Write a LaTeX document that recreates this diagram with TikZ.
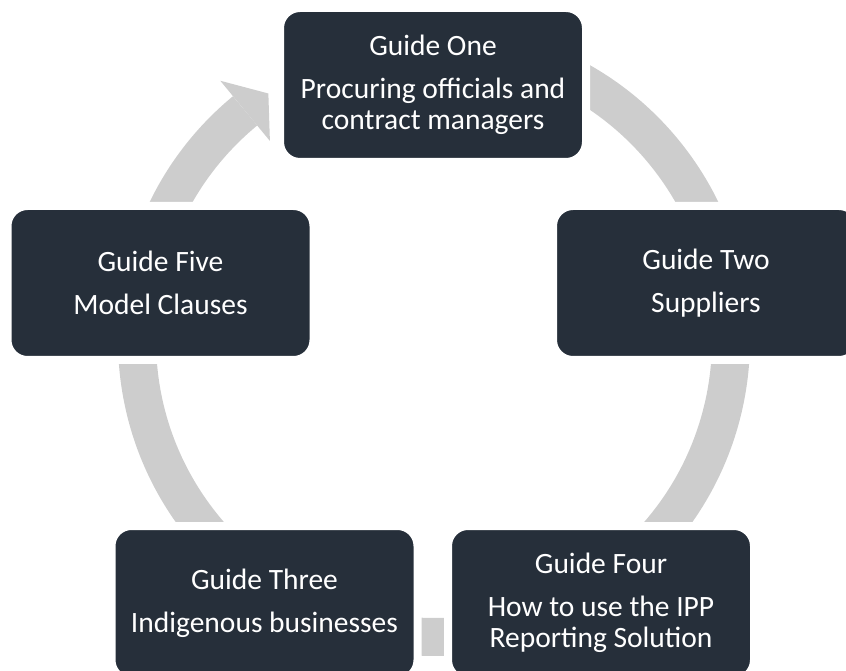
\documentclass[tikz,border=0pt]{standalone}
\usepackage{fontspec}
\setmainfont{Carlito}
\usetikzlibrary{calc}
\definecolor{boxdark}{HTML}{262F3A}
\definecolor{ringgray}{HTML}{CDCDCD}
\begin{document}
\begin{tikzpicture}[x=1pt,y=1pt,
  guide/.style={rectangle, rounded corners=20pt, minimum width=306pt, minimum height=154pt,
    inner sep=0pt, fill=boxdark, draw=white, line width=8pt, text=white, align=center,
    font=\fontsize{29.5}{31}\selectfont},
  ring/.style={draw=ringgray, line width=38pt},
  ringhead/.style={fill=ringgray}]
\useasboundingbox (0,0) rectangle (846,670);
\clip (0,0) rectangle (846,670);
\coordinate (c) at (434,330);
% ring with arrow
\draw[ring] ($(c)+(129.5:297)$) arc[start angle=129.5, end angle=459.5, radius=297pt];
\coordinate (tip) at ($(c)+(123.9:297)$);
\coordinate (barbout) at ($(c)+(129.5:336)$);
\coordinate (barbin) at ($(c)+(129.5:258)$);
\fill[ringhead] (barbout) -- (tip) -- (barbin) -- cycle;
% boxes
\node[guide] (one) at (433,585) {Guide One\\[12pt]Procuring officials and\\contract managers};
\node[guide] (two) at (706,387) {Guide Two\\[12pt]Suppliers};
\node[guide] (four) at (601,67) {Guide Four\\[12pt]How to use the IPP\\Reporting Solution};
\node[guide] (three) at (264.5,67) {Guide Three\\[12pt]Indigenous businesses};
\node[guide] (five) at (160.5,387) {Guide Five\\[12pt]Model Clauses};
\end{tikzpicture}
\end{document}
